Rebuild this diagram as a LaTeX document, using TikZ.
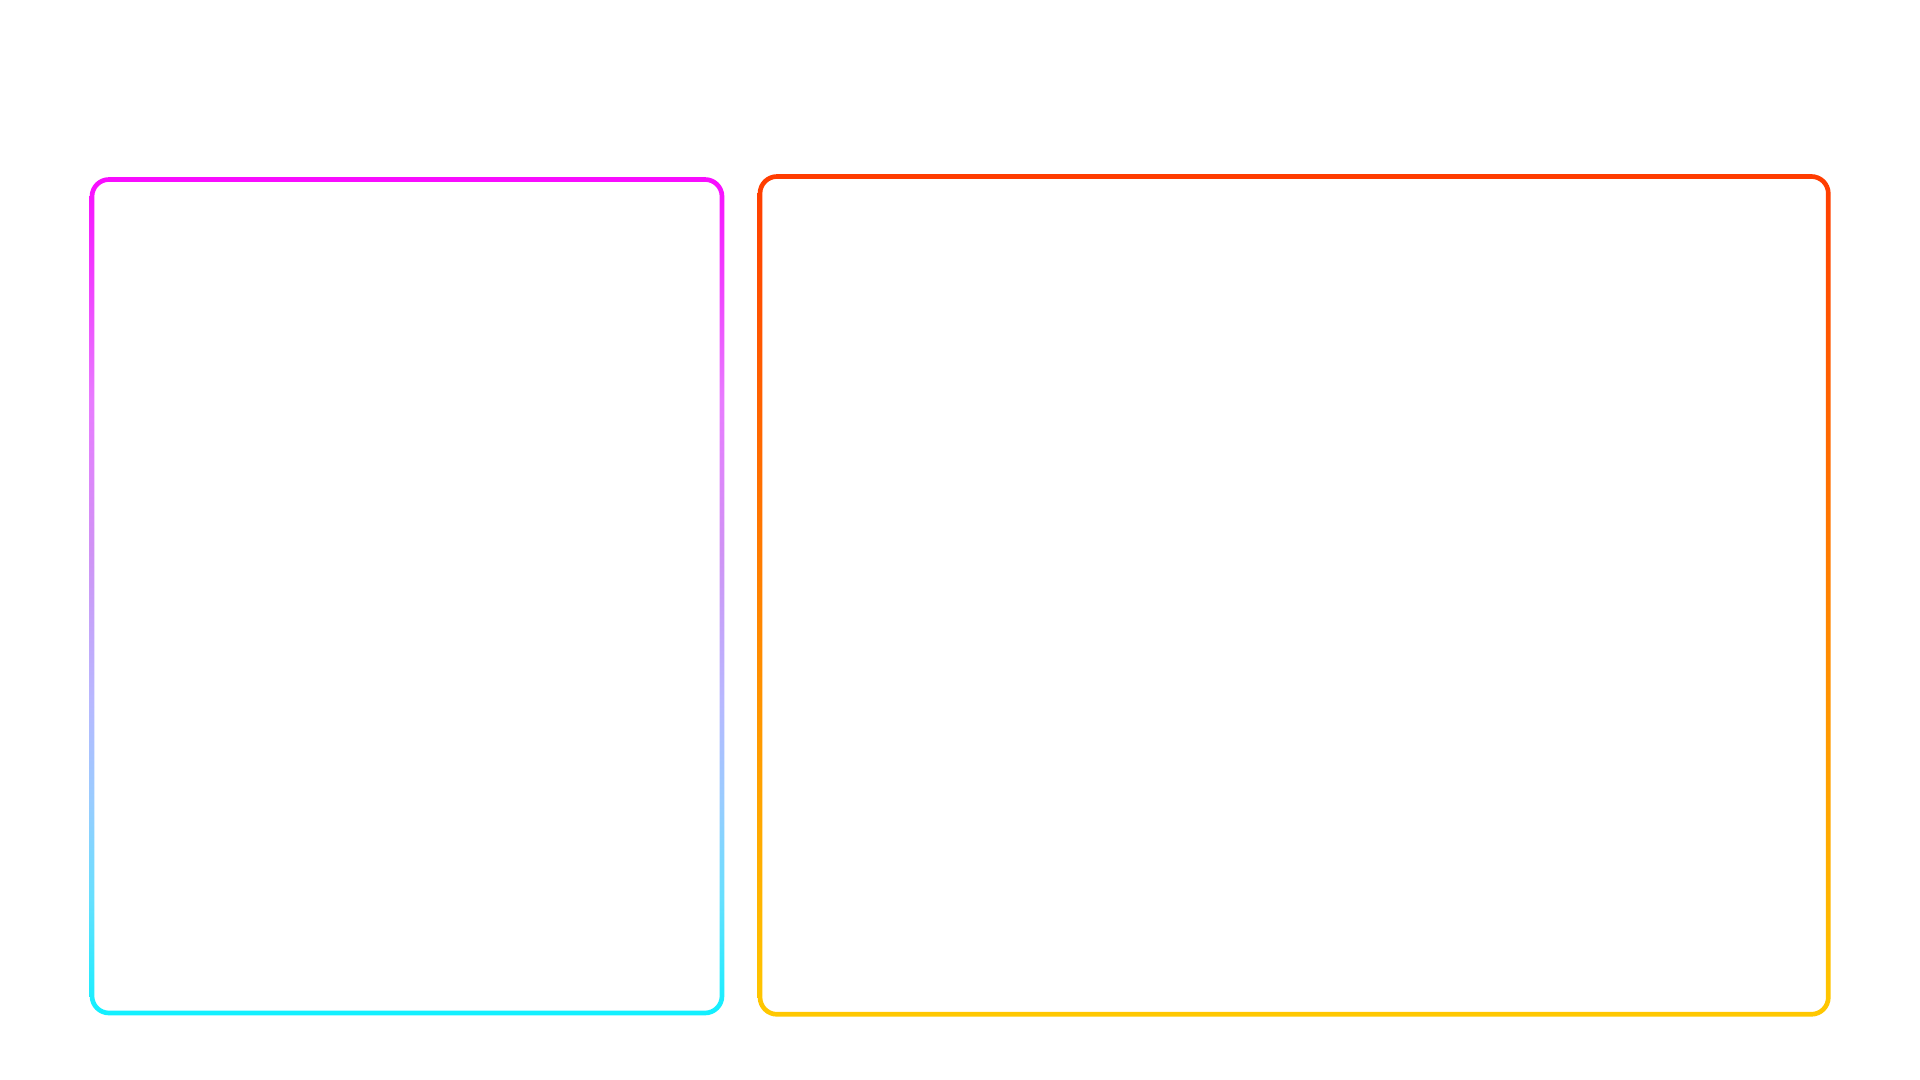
\documentclass[tikz,border=0pt]{standalone}
\definecolor{frameMagenta}{HTML}{F80CFF}
\definecolor{frameOrchid}{HTML}{E87CFF}
\definecolor{frameLilac}{HTML}{D092F5}
\definecolor{framePeri}{HTML}{B8B8FF}
\definecolor{frameSky}{HTML}{99CCFF}
\definecolor{frameAqua}{HTML}{66E0FF}
\definecolor{frameCyan}{HTML}{10F0FF}
\definecolor{frameRed}{HTML}{FF3C00}
\definecolor{frameOrange}{HTML}{FF8A00}
\definecolor{frameGold}{HTML}{FFC800}
\pgfdeclareverticalshading{leftframe}{100bp}{color(0bp)=(frameCyan); color(25bp)=(frameCyan); color(31.9bp)=(frameAqua); color(37.8bp)=(frameSky); color(43.8bp)=(framePeri); color(52.8bp)=(frameLilac); color(61.7bp)=(frameOrchid); color(75bp)=(frameMagenta); color(100bp)=(frameMagenta)}
\begin{document}
\begin{tikzpicture}[x=0.5pt,y=-0.5pt]
	%set diagram to 1920 x 1080
	\useasboundingbox (0,0) rectangle (1920,1080);
	
	%Shape: Rounded Rect [left frame, magenta to cyan]
	\shade [shading=leftframe, even odd rule] [rounded corners=9.7pt] (89.65,177.15) rectangle (724.35,1015.35) [rounded corners=7.3pt] (94.35,181.85) rectangle (719.65,1010.65) ;
	%Shape: Rounded Rect [right frame, red to gold]
	\shade [top color=frameRed, middle color=frameOrange, bottom color=frameGold, even odd rule] [rounded corners=9.7pt] (757.65,174.15) rectangle (1830.65,1016.65) [rounded corners=7.3pt] (762.35,178.85) rectangle (1825.95,1011.95) ;
\end{tikzpicture}
\end{document}
